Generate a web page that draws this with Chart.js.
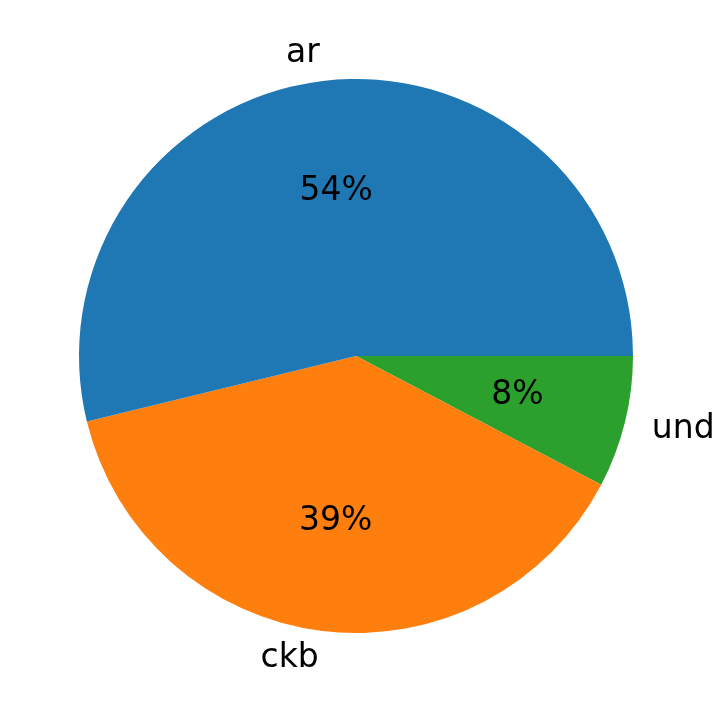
<!DOCTYPE html>
<html><head><meta charset="utf-8">
<script src="https://cdn.jsdelivr.net/npm/chart.js@4/dist/chart.umd.min.js"></script>
<style>html,body{margin:0;padding:0;background:#fff}#wrap{width:728px;height:713px}</style>
</head><body><div id="wrap"><canvas id="c"></canvas></div>
<script>
const categories = ["und", "ckb", "ar"];
const values = [7.7, 38.5, 53.8];
const colors = ["#2ca02c", "#ff7f0e", "#1f77b4"];
const labelPlugin = {
  id: 'lbl',
  afterDatasetsDraw(chart) {
    const ctx = chart.ctx;
    const meta = chart.getDatasetMeta(0);
    const total = values.reduce((a, b) => a + b, 0);
    ctx.save();
    ctx.font = '33px "DejaVu Sans"';
    ctx.fillStyle = '#000';
    ctx.textBaseline = 'middle';
    meta.data.forEach((arc, i) => {
      const mid = (arc.startAngle + arc.endAngle) / 2;
      const r = arc.outerRadius;
      const cx = Math.cos(mid), cy = Math.sin(mid);
      ctx.textAlign = 'center';
      ctx.fillText(Math.round(values[i] / total * 100) + '%', arc.x + 0.6 * r * cx, arc.y + 0.6 * r * cy);
      ctx.textAlign = cx > 0.01 ? 'left' : (cx < -0.01 ? 'right' : 'center');
      ctx.fillText(categories[i], arc.x + 1.1 * r * cx, arc.y + 1.1 * r * cy);
    });
    ctx.restore();
  }
};
new Chart(document.getElementById('c'), {
  type: 'pie',
  data: { labels: categories, datasets: [{ data: values, backgroundColor: colors, borderWidth: 0 }] },
  options: {
    responsive: true, maintainAspectRatio: false, animation: false,
    rotation: 90,
    layout: { padding: { left: 79, right: 95, top: 79, bottom: 80 } },
    plugins: { legend: { display: false }, tooltip: { enabled: false } }
  },
  plugins: [labelPlugin]
});
</script></body></html>
